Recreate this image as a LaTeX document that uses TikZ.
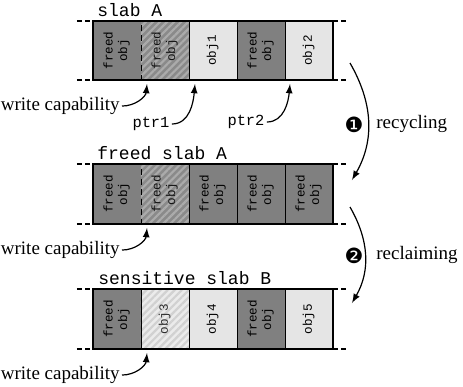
\documentclass[tikz,border=0pt]{standalone}
\usepackage{fontspec}
\setmainfont{Liberation Serif}
\setmonofont{Liberation Mono}
\newfontfamily\dingfont{DejaVu Sans}
\usetikzlibrary{patterns.meta}

\newcommand{\vlabel}[1]{\rotatebox{90}{\begin{tabular}{@{}c@{}}#1\end{tabular}}}

\tikzset{
	cell/.style={draw, thin, minimum width=24pt, minimum height=29.75pt, inner sep=0pt, font=\fontsize{6.3}{7.2}\selectfont\ttfamily},
	freed/.style={cell, fill=black!50},
	obj/.style={cell, fill=black!10},
	freedhatch/.style={cell, densely dashed, text=black!92, preaction={fill=black!46}, pattern={Lines[angle=45, distance=2.5pt, line width=1.1pt]}, pattern color=black!33},
	objhatch/.style={cell, text=black!82, preaction={fill=black!8}, pattern={Lines[angle=45, distance=2.5pt, line width=1.1pt]}, pattern color=black!18},
	slabname/.style={anchor=base west, inner sep=0pt, font=\fontsize{9}{10}\selectfont\ttfamily},
	note/.style={inner sep=1pt, font=\fontsize{9.5}{11}\selectfont},
	ptrname/.style={inner sep=1pt, font=\fontsize{7.7}{9}\selectfont\ttfamily},
	stepnum/.style={inner sep=0pt, font=\dingfont\fontsize{10.5}{12}\selectfont},
	slabedge/.style={line width=1pt},
	slabend/.style={line width=1pt, dash pattern=on 2.5pt off 1.6pt},
}

\begin{document}
\begin{tikzpicture}[x=0.5pt, y=-0.5pt, >=latex]
	\useasboundingbox (0,0) rectangle (463,387);

	% slab A
	\node[slabname] (tA) at (97,16) {slab A};
	\node[freed] (A1) at (117,50.5) {\vlabel{freed\\obj}};
	\node[freedhatch] (A2) at (165,50.5) {\vlabel{freed\\obj}};
	\node[obj] (A3) at (213,50.5) {\vlabel{obj1}};
	\node[freed] (A4) at (261,50.5) {\vlabel{freed\\obj}};
	\node[obj] (A5) at (309,50.5) {\vlabel{obj2}};
	\draw[slabedge] (93,21) rectangle (333,80);
	\draw[slabend] (77,21) -- (93,21);
	\draw[slabend] (77,80) -- (93,80);
	\draw[slabend] (333,21) -- (349,21);
	\draw[slabend] (333,80) -- (349,80);

	% freed slab A
	\node[slabname] (tF) at (97,159) {freed slab A};
	\node[freed] (F1) at (117,194) {\vlabel{freed\\obj}};
	\node[freedhatch] (F2) at (165,194) {\vlabel{freed\\obj}};
	\node[freed] (F3) at (213,194) {\vlabel{freed\\obj}};
	\node[freed] (F4) at (261,194) {\vlabel{freed\\obj}};
	\node[freed] (F5) at (309,194) {\vlabel{freed\\obj}};
	\draw[slabedge] (93,164) rectangle (333,224);
	\draw[slabend] (77,164) -- (93,164);
	\draw[slabend] (77,224) -- (93,224);
	\draw[slabend] (333,164) -- (349,164);
	\draw[slabend] (333,224) -- (349,224);

	% sensitive slab B
	\node[slabname] (tB) at (98,284) {sensitive slab B};
	\node[freed] (B1) at (117,319) {\vlabel{freed\\obj}};
	\node[objhatch] (B2) at (165,319) {\vlabel{obj3}};
	\node[obj] (B3) at (213,319) {\vlabel{obj4}};
	\node[freed] (B4) at (261,319) {\vlabel{freed\\obj}};
	\node[obj] (B5) at (309,319) {\vlabel{obj5}};
	\draw[slabedge] (93,289) rectangle (333,349);
	\draw[slabend] (77,289) -- (93,289);
	\draw[slabend] (77,349) -- (93,349);
	\draw[slabend] (333,289) -- (349,289);
	\draw[slabend] (333,349) -- (349,349);

	% pointers into the slabs
	\coordinate (hA) at (147,84);
	\coordinate (hF) at (147,228);
	\coordinate (hB) at (147,353);
	\coordinate (p1) at (195,84);
	\coordinate (p2) at (290,84);
	\node[note, anchor=mid east] (wA) at (122,106) {write capability};
	\node[note, anchor=mid east] (wF) at (122,250) {write capability};
	\node[note, anchor=mid east] (wB) at (122,375) {write capability};
	\node[ptrname] (r1) at (151,124) {ptr1};
	\node[ptrname] (r2) at (246,122) {ptr2};
	\draw[semithick, ->] (wA.east) to[out=0, in=-95] (hA);
	\draw[semithick, ->] (wF.east) to[out=0, in=-95] (hF);
	\draw[semithick, ->] (wB.east) to[out=0, in=-95] (hB);
	\draw[semithick, ->] (r1.east) to[out=0, in=-95] (p1);
	\draw[semithick, ->] (r2.east) to[out=0, in=-95] (p2);

	% steps
	\coordinate (s1) at (350,63);
	\coordinate (e1) at (352,180);
	\coordinate (s2) at (350,207);
	\coordinate (e2) at (352,303);
	\draw[semithick, ->] (s1) to[out=-60, in=60] (e1);
	\draw[semithick, ->] (s2) to[out=-60, in=60] (e2);
	\node[stepnum] (n1) at (354,125) {❶};
	\node[note, anchor=west] (l1) at (374,124) {recycling};
	\node[stepnum] (n2) at (354,256) {❷};
	\node[note, anchor=west] (l2) at (374,255) {reclaiming};
\end{tikzpicture}
\end{document}
